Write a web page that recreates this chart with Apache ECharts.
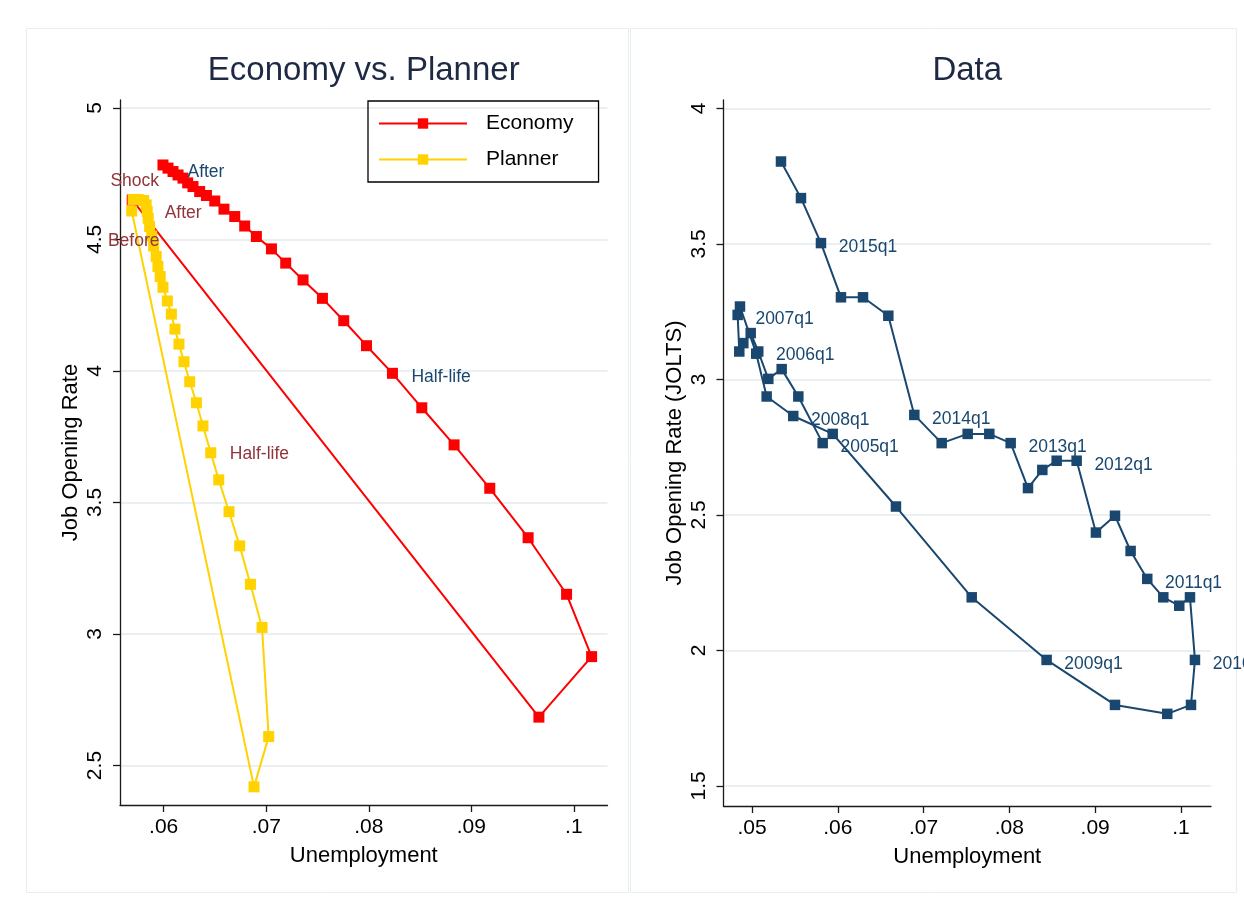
<!DOCTYPE html>
<html><head><meta charset="utf-8">
<script src="https://cdn.jsdelivr.net/npm/echarts@6/dist/echarts.min.js"></script>
<style>html,body{margin:0;padding:0;background:#fff}#c{width:1244px;height:909px}</style>
</head><body><div id="c"></div>
<script>
const FONT = '"Liberation Sans", Arial, Helvetica, sans-serif';

// ---------- Left panel: Economy vs. Planner (model paths) ----------
const econU = [0.05693, 0.09659, 0.10173, 0.09929, 0.09554, 0.09180, 0.08832, 0.08517, 0.08231, 0.07978,
  0.07756, 0.07548, 0.07359, 0.07190, 0.07051, 0.06904, 0.06790, 0.06693, 0.06588, 0.06498,
  0.06417, 0.06351, 0.06286, 0.06234, 0.06188, 0.06140, 0.06091, 0.06042, 0.05993];
const econV = [4.650, 2.684, 2.914, 3.151, 3.366, 3.554, 3.719, 3.860, 3.991, 4.096,
  4.191, 4.276, 4.346, 4.410, 4.464, 4.511, 4.551, 4.587, 4.615, 4.646,
  4.667, 4.682, 4.701, 4.715, 4.733, 4.745, 4.758, 4.771, 4.783];
const econTags = {0: 'Shock', 8: 'Half-life', 28: 'After'};

const planU = [0.05688, 0.06881, 0.07024, 0.06959, 0.06846, 0.06741, 0.06637, 0.06537, 0.06459, 0.06383,
  0.06319, 0.06254, 0.06198, 0.06149, 0.06110, 0.06075, 0.06036, 0.05993, 0.05966, 0.05944,
  0.05927, 0.05902, 0.05883, 0.05863, 0.05849, 0.05839, 0.05829, 0.05805, 0.05751, 0.05702];
const planV = [4.608, 2.419, 2.610, 3.025, 3.189, 3.335, 3.465, 3.586, 3.689, 3.791,
  3.879, 3.959, 4.035, 4.102, 4.159, 4.216, 4.266, 4.318, 4.359, 4.397,
  4.435, 4.475, 4.513, 4.549, 4.580, 4.606, 4.631, 4.648, 4.652, 4.652];
const planTags = {0: 'Before', 8: 'Half-life', 25: 'After'};

const seriesNames = ['Economy', 'Planner'];

// ---------- Right panel: Data (JOLTS) ----------
const quarters = ['2005q1','2005q2','2005q3','2005q4','2006q1','2006q2','2006q3','2006q4',
  '2007q1','2007q2','2007q3','2007q4','2008q1','2008q2','2008q3','2008q4',
  '2009q1','2009q2','2009q3','2009q4','2010q1','2010q2','2010q3','2010q4',
  '2011q1','2011q2','2011q3','2011q4','2012q1','2012q2','2012q3','2012q4',
  '2013q1','2013q2','2013q3','2013q4','2014q1','2014q2','2014q3','2014q4',
  '2015q1','2015q2','2015q3'];
const dataU = [0.05824, 0.05540, 0.05346, 0.05190, 0.05073, 0.04985, 0.04899, 0.04852,
  0.04833, 0.04860, 0.05050, 0.05171, 0.05481, 0.05941, 0.06678, 0.07561,
  0.08434, 0.09231, 0.09840, 0.10117, 0.10163, 0.10105, 0.09980, 0.09794,
  0.09607, 0.09413, 0.09231, 0.09009, 0.08784, 0.08551, 0.08384, 0.08217,
  0.08015, 0.07766, 0.07514, 0.07211, 0.06892, 0.06589, 0.06294, 0.06037,
  0.05804, 0.05571, 0.05338];
const dataV = [2.765, 2.937, 3.038, 3.002, 3.103, 3.171, 3.134, 3.103,
  3.238, 3.269, 3.095, 2.937, 2.865, 2.799, 2.531, 2.196,
  1.965, 1.799, 1.766, 1.799, 1.965, 2.196, 2.165, 2.196,
  2.264, 2.367, 2.497, 2.435, 2.700, 2.700, 2.666, 2.599,
  2.765, 2.799, 2.799, 2.765, 2.869, 3.235, 3.303, 3.303,
  3.503, 3.669, 3.804];

// ---------- Axis ticks ----------
const leftXTicks = [0.06, 0.07, 0.08, 0.09, 0.10];
const leftXTickLabels = ['.06', '.07', '.08', '.09', '.1'];
const leftYTicks = [2.5, 3, 3.5, 4, 4.5, 5];
const leftYTickLabels = ['2.5', '3', '3.5', '4', '4.5', '5'];
const rightXTicks = [0.05, 0.06, 0.07, 0.08, 0.09, 0.10];
const rightXTickLabels = ['.05', '.06', '.07', '.08', '.09', '.1'];
const rightYTicks = [1.5, 2, 2.5, 3, 3.5, 4];
const rightYTickLabels = ['1.5', '2', '2.5', '3', '3.5', '4'];

const titles = ['Economy vs. Planner', 'Data'];
const xTitle = 'Unemployment';
const yTitles = ['Job Opening Rate', 'Job Opening Rate (JOLTS)'];

// ---------- styling ----------
const RED = '#ff0000', GOLD = '#ffd200', NAVY = '#1a476f', MAROON = '#90353b';
const GRID_C = '#e3ebee', AXIS_C = '#1a1a1a';

function fmt(ticks, labels) {
  return v => { const i = ticks.findIndex(t => Math.abs(t - v) < 1e-9); return i >= 0 ? labels[i] : ''; };
}
function xAxis(idx, min, max, ticks, labels) {
  return {
    type: 'value', gridIndex: idx, min, max,
    name: xTitle, nameLocation: 'middle', nameGap: 40,
    nameTextStyle: {fontFamily: FONT, fontSize: 22, color: '#000'},
    axisLine: {show: true, onZero: false, lineStyle: {color: AXIS_C, width: 1.3}},
    axisTick: {show: true, length: 7, customValues: ticks, lineStyle: {color: AXIS_C, width: 1.3}},
    axisLabel: {customValues: ticks, formatter: fmt(ticks, labels), fontFamily: FONT, fontSize: 21, color: '#000', margin: 12},
    splitLine: {show: false}
  };
}
function yAxis(idx, min, max, ticks, labels, name) {
  return {
    type: 'value', gridIndex: idx, min, max,
    name, nameLocation: 'middle', nameGap: 38,
    nameTextStyle: {fontFamily: FONT, fontSize: 22, color: '#000'},
    axisLine: {show: true, onZero: false, lineStyle: {color: AXIS_C, width: 1.3}},
    axisTick: {show: true, length: 7, customValues: ticks, lineStyle: {color: AXIS_C, width: 1.3}},
    axisLabel: {customValues: ticks, formatter: fmt(ticks, labels), rotate: 90, fontFamily: FONT, fontSize: 21, color: '#000', margin: 14},
    splitLine: {show: true, lineStyle: {color: GRID_C, width: 1.6}}
  };
}

// label placement per tag: base position + pixel nudge (applied via labelLayout)
const tagStyle = {
  econ: {
    'Shock':     {position: 'top', distance: 4.5, dx: 2.5, dy: 0, color: MAROON},
    'Half-life': {position: 'right', distance: 13.5, dx: 0, dy: 3.5, color: NAVY},
    'After':     {position: 'right', distance: 19, dx: 0, dy: 7, color: NAVY}
  },
  plan: {
    'Before':    {position: 'bottom', distance: 15.5, dx: 2, dy: 0, color: MAROON},
    'Half-life': {position: 'right', distance: 13.5, dx: 0, dy: 1.5, color: MAROON},
    'After':     {position: 'right', distance: 12, dx: 0, dy: 1.5, color: MAROON}
  }
};
function buildData(us, vs, tags, styles) {
  return us.map((u, i) => {
    const item = {value: [u, vs[i]]};
    if (tags[i] !== undefined) {
      const s = styles[tags[i]];
      item.label = {show: true, formatter: tags[i], position: s.position, distance: s.distance,
        color: s.color, fontFamily: FONT, fontSize: 17.5};
    }
    return item;
  });
}
function nudge(tags, styles) {
  return p => {
    const t = tags[p.dataIndex];
    if (t === undefined) return {hideOverlap: false};
    return {hideOverlap: false, dx: styles[t].dx, dy: styles[t].dy};
  };
}

const chart = echarts.init(document.getElementById('c'), null, {renderer: 'canvas'});
chart.setOption({
  animation: false,
  backgroundColor: '#ffffff',
  grid: [
    {left: 120, top: 100, width: 487.5, height: 705, containLabel: false},
    {left: 723.5, top: 100, width: 487.5, height: 706, containLabel: false}
  ],
  xAxis: [
    xAxis(0, 0.05574, 0.10328, leftXTicks, leftXTickLabels),
    xAxis(1, 0.04668, 0.10350, rightXTicks, rightXTickLabels)
  ],
  yAxis: [
    yAxis(0, 2.35, 5.03, leftYTicks, leftYTickLabels, yTitles[0]),
    yAxis(1, 1.426, 4.031, rightYTicks, rightYTickLabels, yTitles[1])
  ],
  legend: {
    left: 368, top: 101, orient: 'vertical',
    data: seriesNames,
    borderColor: '#000', borderWidth: 1.3, borderRadius: 0,
    padding: [12, 25, 12, 10], itemGap: 15,
    itemWidth: 88, itemHeight: 13,
    textStyle: {fontFamily: FONT, fontSize: 21, color: '#000', padding: [0, 0, 0, 14]}
  },
  graphic: [
    {type: 'rect', shape: {x: 26.5, y: 28.5, width: 602, height: 864}, style: {fill: 'none', stroke: '#e6eef0', lineWidth: 1}, z: -1},
    {type: 'rect', shape: {x: 630.5, y: 28.5, width: 606, height: 864}, style: {fill: 'none', stroke: '#e6eef0', lineWidth: 1}, z: -1},
    {type: 'text', x: 363.75, y: 71, style: {text: titles[0], font: '33px ' + FONT, fill: '#1e2a45', align: 'center', verticalAlign: 'middle'}},
    {type: 'text', x: 967.25, y: 71, style: {text: titles[1], font: '33px ' + FONT, fill: '#1e2a45', align: 'center', verticalAlign: 'middle'}}
  ],
  series: [
    {
      name: seriesNames[0], type: 'line', xAxisIndex: 0, yAxisIndex: 0,
      data: buildData(econU, econV, econTags, tagStyle.econ),
      symbol: 'rect', symbolSize: 11, showAllSymbol: true,
      itemStyle: {color: RED}, lineStyle: {color: RED, width: 2},
      labelLayout: nudge(econTags, tagStyle.econ), z: 2
    },
    {
      name: seriesNames[1], type: 'line', xAxisIndex: 0, yAxisIndex: 0,
      data: buildData(planU, planV, planTags, tagStyle.plan),
      symbol: 'rect', symbolSize: 11, showAllSymbol: true,
      itemStyle: {color: GOLD}, lineStyle: {color: GOLD, width: 2},
      labelLayout: nudge(planTags, tagStyle.plan), z: 3
    },
    {
      name: 'JOLTS', type: 'line', xAxisIndex: 1, yAxisIndex: 1,
      data: dataU.map((u, i) => ({value: [u, dataV[i]], name: quarters[i]})),
      symbol: 'rect', symbolSize: 10.5, showAllSymbol: true,
      itemStyle: {color: NAVY}, lineStyle: {color: NAVY, width: 2},
      label: {show: true, position: 'right', distance: 12.5,
        formatter: p => (p.name.endsWith('q1') ? p.name : ''),
        color: NAVY, fontFamily: FONT, fontSize: 17.5},
      labelLayout: () => ({hideOverlap: false, dy: 4})
    }
  ]
});
</script></body></html>
